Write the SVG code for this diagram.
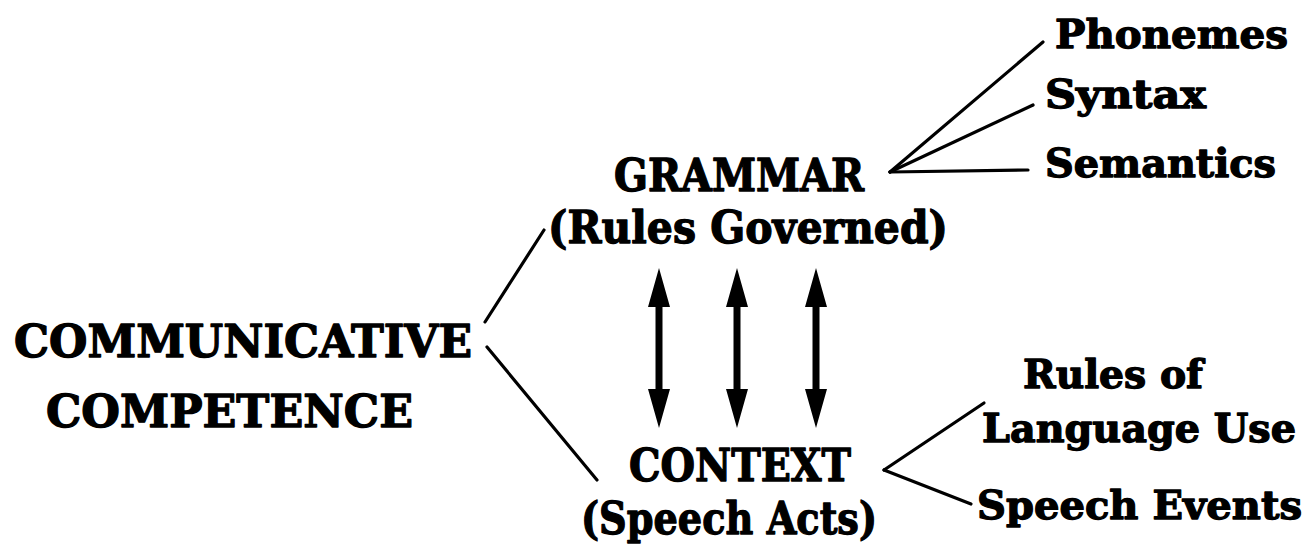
<svg xmlns="http://www.w3.org/2000/svg" width="1309" height="553" viewBox="0 0 1309 553">
<style>
.t{font-family:"DejaVu Serif","Liberation Serif",serif;font-weight:bold;fill:#000;stroke:#000;stroke-width:1.3;stroke-linejoin:round}
.big{font-size:45px}
.sm{font-size:39px}
.ln{stroke:#000;stroke-width:3.2;fill:none;stroke-linecap:round}
.arr{stroke:#000;stroke-width:7;fill:none}
.hd{fill:#000}
</style>
<defs>
<path id="dbl" d="M0,268 L11,307 L-11,307 Z M0,428 L11,389 L-11,389 Z"/>
</defs>
<rect width="1309" height="553" fill="#fff"/>
<g id="communicative">
<text class="t big" x="14" y="357" textLength="458" lengthAdjust="spacingAndGlyphs">COMMUNICATIVE</text>
<text class="t big" x="46" y="427" textLength="367" lengthAdjust="spacingAndGlyphs">COMPETENCE</text>
</g>
<g id="grammar">
<text class="t big" x="614" y="191" textLength="250" lengthAdjust="spacingAndGlyphs">GRAMMAR</text>
<text class="t big" x="548" y="243" textLength="400" lengthAdjust="spacingAndGlyphs">(Rules Governed)</text>
</g>
<g id="context">
<text class="t big" x="629" y="481" textLength="222" lengthAdjust="spacingAndGlyphs">CONTEXT</text>
<text class="t big" x="581" y="534" textLength="296" lengthAdjust="spacingAndGlyphs">(Speech Acts)</text>
</g>
<g id="phonemes"><text class="t sm" x="1055" y="48" textLength="233" lengthAdjust="spacingAndGlyphs">Phonemes</text></g>
<g id="syntax"><text class="t sm" x="1045" y="108" textLength="161" lengthAdjust="spacingAndGlyphs">Syntax</text></g>
<g id="semantics"><text class="t sm" x="1045" y="177" textLength="231" lengthAdjust="spacingAndGlyphs">Semantics</text></g>
<g id="rules-of-use">
<text class="t sm" x="1023" y="388" textLength="180" lengthAdjust="spacingAndGlyphs">Rules of</text>
<text class="t sm" x="982" y="442" textLength="314" lengthAdjust="spacingAndGlyphs">Language Use</text>
</g>
<g id="speech-events"><text class="t sm" x="977" y="519" textLength="325" lengthAdjust="spacingAndGlyphs">Speech Events</text></g>
<g id="connectors">
<line class="ln" x1="485" y1="322" x2="544" y2="230"/>
<line class="ln" x1="487" y1="347" x2="597" y2="480"/>
<line class="ln" x1="890" y1="172" x2="1043" y2="42"/>
<line class="ln" x1="890" y1="172" x2="1033" y2="105"/>
<line class="ln" x1="890" y1="172" x2="1028" y2="170"/>
<line class="ln" x1="884" y1="470" x2="984" y2="403"/>
<line class="ln" x1="884" y1="470" x2="971" y2="504"/>
<line class="arr" x1="659" y1="300" x2="659" y2="396"/>
<use href="#dbl" class="hd" x="659"/>
<line class="arr" x1="737" y1="300" x2="737" y2="396"/>
<use href="#dbl" class="hd" x="737"/>
<line class="arr" x1="816" y1="300" x2="816" y2="396"/>
<use href="#dbl" class="hd" x="816"/>
</g>
</svg>
